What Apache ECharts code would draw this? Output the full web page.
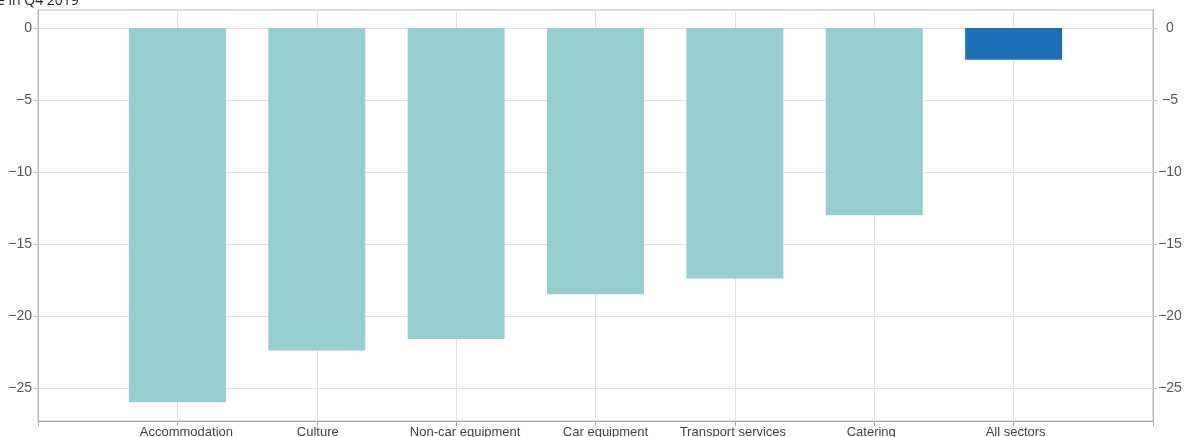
<!DOCTYPE html>
<html>
<head>
<meta charset="utf-8">
<script src="https://cdn.jsdelivr.net/npm/echarts@6/dist/echarts.min.js"></script>
<style>
  html, body { margin: 0; padding: 0; background: #fff; }
  #app { width: 1184px; height: 437px; }
</style>
</head>
<body>
<div id="app"></div>
<script>
  // categories (empty slots at both ends keep the outer gaps)
  const sectors = ["", "Accommodation", "Culture", "Non-car equipment", "Car equipment",
    "Transport services", "Catering", "All sectors", ""];
  // change in Q4 2019, %
  const changes = [null, -26.0, -22.4, -21.6, -18.5, -17.4, -13.0, -2.2, null];
  const yTicks = [-25, -20, -15, -10, -5, 0];

  const teal = "#96cecf";
  const blue = "#1f6fb8";
  const labelFont = "Liberation Sans, Arial, sans-serif";

  // the original labels sit a little off their ticks
  const labelNudge = {
    "Accommodation": 9, "Culture": 1, "Non-car equipment": 9, "Car equipment": 10,
    "Transport services": -2, "Catering": -3, "All sectors": 2
  };

  const barData = changes.map((v, i) => ({
    value: v,
    itemStyle: { color: sectors[i] === "All sectors" ? blue : teal }
  }));

  const rich = {};
  Object.keys(labelNudge).forEach((name, i) => {
    const d = labelNudge[name];
    rich["n" + i] = {
      color: "#444", fontSize: 13, fontFamily: labelFont,
      padding: d >= 0 ? [0, 0, 0, 2 * d] : [0, -2 * d, 0, 0]
    };
  });

  function xLabel(name) {
    const i = Object.keys(labelNudge).indexOf(name);
    return i < 0 ? name : "{n" + i + "|" + name + "}";
  }

  function fmt(v) {
    return String(v).replace("-", "\u2212");
  }

  function yAxis(pos) {
    const left = pos === "left";
    return {
      type: "value",
      position: pos,
      min: -27.3,
      max: 1.25,
      axisLine: { show: true, lineStyle: { color: "#bbb" } },
      axisTick: { show: true, length: left ? 5 : 4, customValues: yTicks, lineStyle: { color: "#bbb" } },
      axisLabel: {
        customValues: yTicks,
        margin: left ? 6 : 17,
        align: left ? "right" : "center",
        color: "#555",
        fontSize: 14,
        fontFamily: labelFont,
        formatter: fmt
      },
      splitLine: { show: left, lineStyle: { color: "#e2e2e2" } }
    };
  }

  const myChart = echarts.init(document.getElementById("app"));
  const option = {
    animation: false,
    graphic: [{
      type: "text",
      left: -3,
      top: -6,
      style: {
        text: "e in Q4 2019",
        fill: "#222",
        font: "14px 'Open Sans', sans-serif"
      }
    }],
    grid: {
      left: 38, right: 31, top: 10, bottom: 16,
      outerBoundsMode: "none",
      containLabel: false,
      show: true, borderColor: "#bbb", borderWidth: 1
    },
    xAxis: {
      type: "category",
      data: sectors,
      boundaryGap: false,
      axisLine: { onZero: false, lineStyle: { color: "#aaa" } },
      axisTick: { show: true, length: 5, lineStyle: { color: "#aaa" } },
      axisLabel: {
        interval: 0,
        margin: 5,
        color: "#444",
        fontSize: 13,
        fontFamily: labelFont,
        formatter: xLabel,
        rich: rich
      },
      splitLine: { show: true, lineStyle: { color: "#e2e2e2" } }
    },
    yAxis: [yAxis("left"), yAxis("right")],
    series: [{
      type: "bar",
      data: barData,
      barWidth: 97
    }]
  };
  myChart.setOption(option);
</script>
</body>
</html>
